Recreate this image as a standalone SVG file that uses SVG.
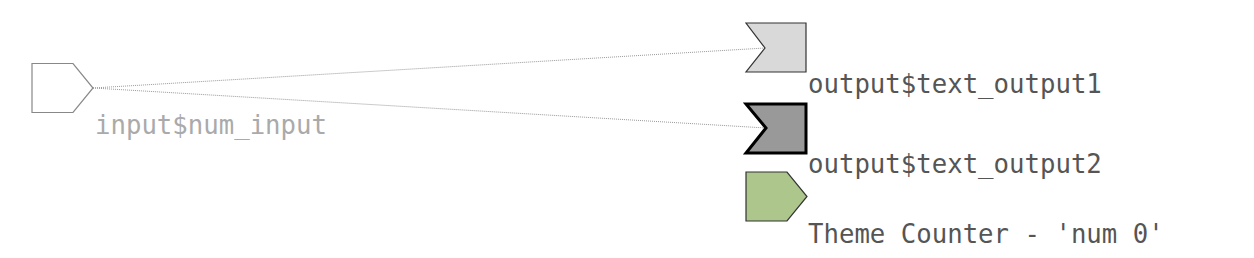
<svg xmlns="http://www.w3.org/2000/svg" width="1254" height="258" viewBox="0 0 1254 258">
<style>
text{font-family:"DejaVu Sans Mono","Liberation Mono",monospace;font-size:25.7px}
.lbl{fill:#555}
.lbl-in{fill:#aaa}
.edge{fill:none;stroke:#999;stroke-width:1;stroke-dasharray:1,1}
</style>
<rect width="1254" height="258" fill="#fff"/>
<g id="connectors">
<line class="edge" x1="93" y1="88" x2="765" y2="48"/>
<line class="edge" x1="93" y1="88" x2="766" y2="128"/>
</g>
<g id="input_num_input">
<polygon points="32,63.5 73,63.5 93,88 73,112.5 32,112.5" fill="#fff" stroke="#888" stroke-width="1.2"/>
<text class="lbl-in" x="95" y="134">input$num_input</text>
</g>
<g id="output_text_output1">
<polygon points="746,23 806,23 806,72 746,72 765,48" fill="#d9d9d9" stroke="#333" stroke-width="1.2"/>
<text class="lbl" x="808" y="93">output$text_output1</text>
</g>
<g id="output_text_output2">
<polygon points="746,104 806,104 806,153 746,153 766,128" fill="#999" stroke="#000" stroke-width="3"/>
<text class="lbl" x="808" y="173">output$text_output2</text>
</g>
<g id="theme_counter">
<polygon points="746,172 787,172 807,196.5 787,221 746,221" fill="#acc68c" stroke="#333" stroke-width="1.2"/>
<text class="lbl" x="808" y="243">Theme Counter - 'num 0'</text>
</g>
</svg>
